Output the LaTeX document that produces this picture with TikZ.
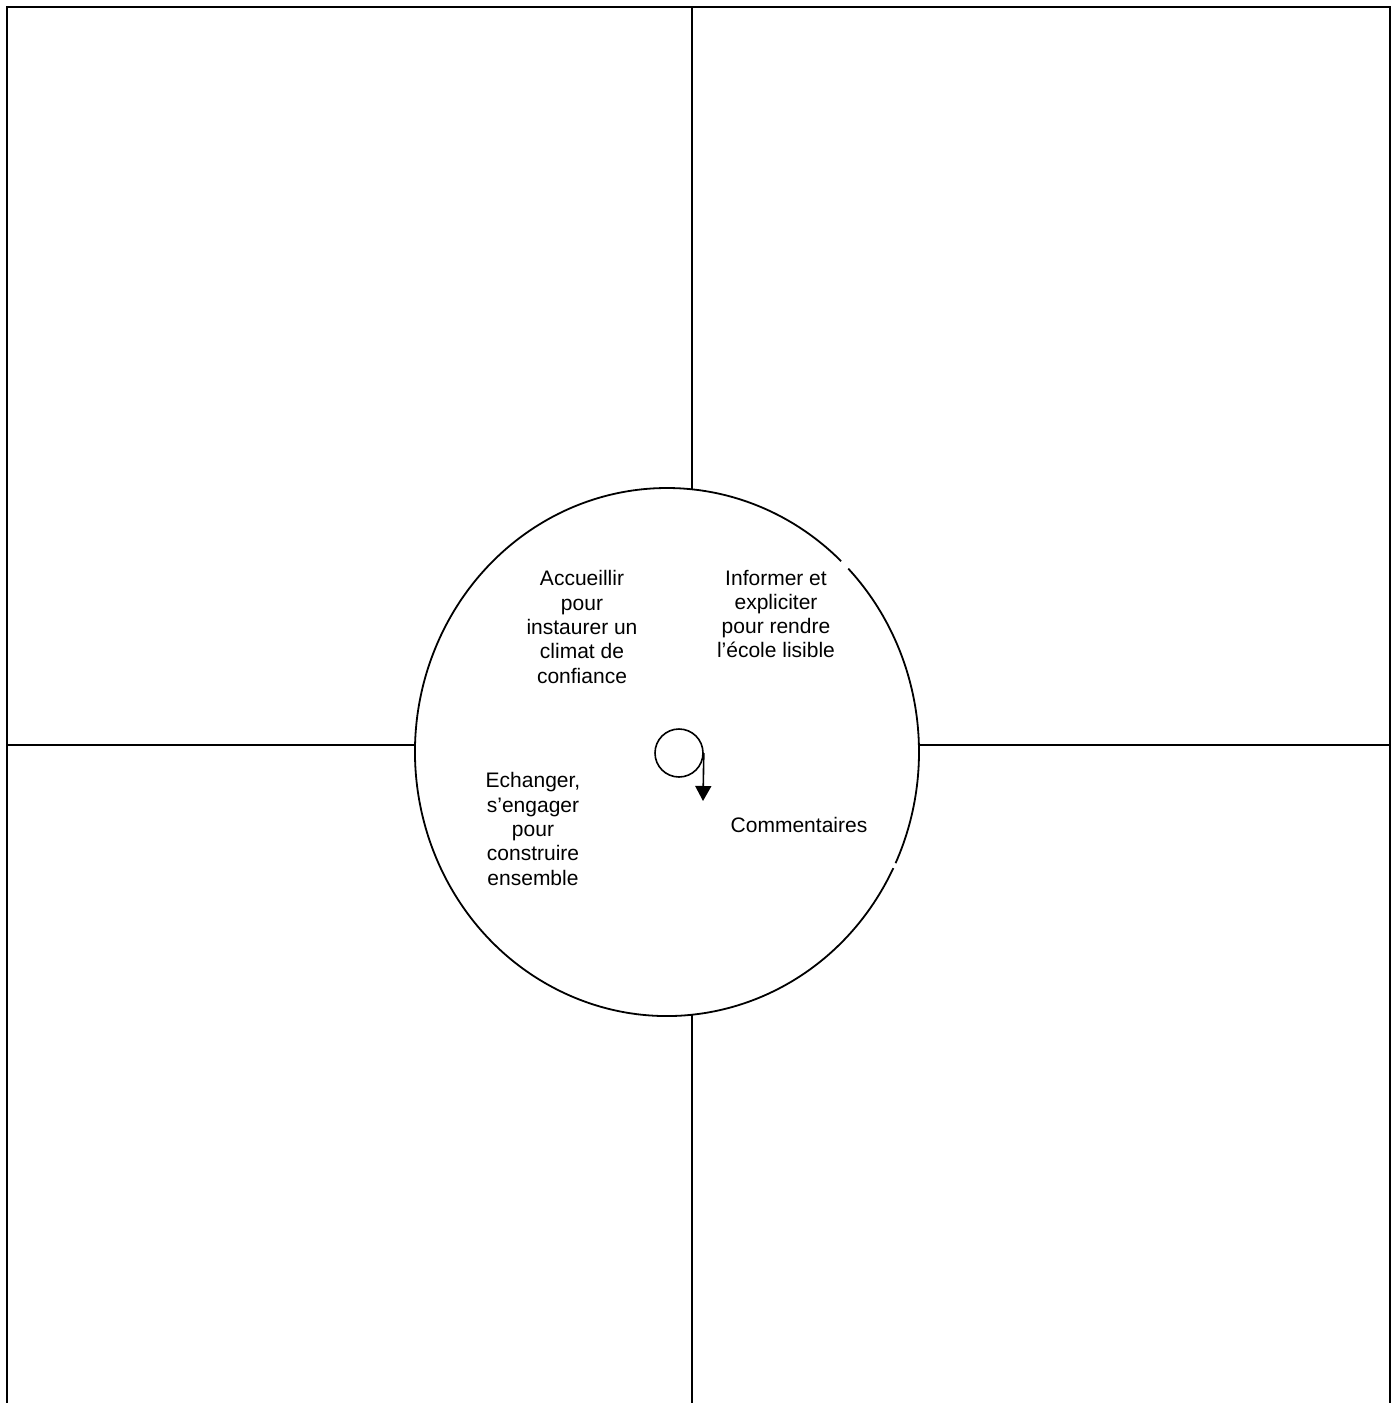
\documentclass[tikz,border=0pt]{standalone}
\usepackage{fontspec}
\setmainfont{Liberation Sans}
\usetikzlibrary{arrows.meta, positioning}

\begin{document}
\begin{tikzpicture}[x=1pt, y=-1pt,
                txt/.style={align=center, inner sep=0pt, font=\fontsize{21}{24.3}\selectfont},
                frame/.style={line width=1.8pt},
                ring/.style={line width=1.8pt},
                arrow/.style={-{Triangle[length=15pt, width=16pt]}, line width=1.6pt}]
                \useasboundingbox (0,0) rectangle (1395,1403);
                % outer frame, open at the bottom
                \coordinate (tl) at (7,7);
                \coordinate (tr) at (1390,7);
                \coordinate (bl) at (7,1403);
                \coordinate (br) at (1390,1403);
                \draw[frame] (bl) -- (tl) -- (tr) -- (br);

                % centre ellipse with two small breaks
                \coordinate (c) at (667,752);
                \draw[ring] (c) ++(-44:252 and 264) arc[start angle=-44, end angle=24.9, x radius=252, y radius=264];
                \draw[ring] (c) ++(26.1:252 and 264) arc[start angle=26.1, end angle=313.7, x radius=252, y radius=264];

                % cross lines up to the ellipse
                \coordinate (tm) at (692,7);
                \coordinate (bm) at (692,1403);
                \coordinate (lm) at (7,745);
                \coordinate (rm) at (1390,745);
                \coordinate (etop) at (692,489);
                \coordinate (ebot) at (692,1015);
                \coordinate (eleft) at (415,745);
                \coordinate (eright) at (919,745);
                \draw[frame] (tm) -- (etop);
                \draw[frame] (ebot) -- (bm);
                \draw[frame] (lm) -- (eleft);
                \draw[frame] (eright) -- (rm);

                % turning sign in the middle
                \node[circle, draw, line width=1.6pt, minimum size=48pt, inner sep=0pt] (spin) at (679,753) {};
                \coordinate (tip) at (703,801);
                \draw[arrow] (spin.east) -- (tip);

                \node[txt] (accueil) at (582,627) {Accueillir\\pour\\instaurer un\\climat de\\confiance};
                \node[txt] (informer) at (776,614) {Informer et\\expliciter\\pour rendre\\l’école lisible};
                \node[txt] (echanger) at (533,829) {Echanger,\\s’engager\\pour\\construire\\ensemble};
                \node[txt] (comment) at (799,825) {Commentaires};
            \end{tikzpicture}
\end{document}
